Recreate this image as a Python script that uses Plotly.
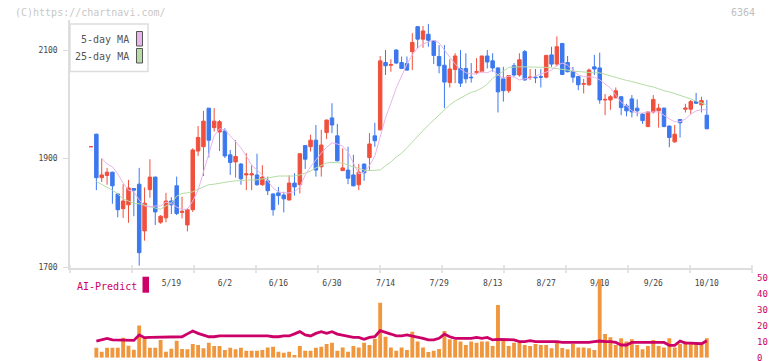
import plotly.graph_objects as go

# ---------------- data ----------------
tick_labels = ["5/19", "6/2", "6/16", "6/30", "7/14", "7/29", "8/13", "8/27", "9/10", "9/26", "10/10"]
tick_index = [15, 25, 35, 45, 55, 65, 75, 85, 95, 105, 115]

opens = [1922, 1945, 1865, 1869, 1875, 1835, 1808, 1815, 1845, 1853,
         1767, 1843, 1866, 1783, 1791, 1822, 1850, 1801, 1778, 1806,
         1914, 1922, 1993, 1957, 1949, 1951, 1907, 1894, 1890, 1870,
         1870, 1870, 1852, 1859, 1835, 1837, 1833, 1824, 1855, 1852,
         1924, 1922, 1934, 1885, 1948, 1975, 1942, 1878, 1879, 1870,
         1852, 1890, 1902, 1942, 1953, 2077, 2072, 2100, 2077, 2075,
         2097, 2143, 2120, 2129, 2117, 2088, 2072, 2040, 2064, 2066,
         2066, 2050, 2059, 2060, 2089, 2080, 2067, 2047, 2025, 2071,
         2054, 2097, 2049, 2050, 2051, 2050, 2091, 2074, 2112, 2077,
         2061, 2051, 2037, 2036, 2069, 2067, 2008, 2008, 2012, 2014,
         1997, 2010, 1993, 1982, 1959, 1986, 1988, 1993, 1960, 1931,
         1972, 1991, 1991, 2005, 1999, 1980]
highs = [1922, 1946, 1900, 1883, 1876, 1836, 1853, 1861, 1846, 1883,
         1847, 1899, 1867, 1796, 1837, 1829, 1867, 1830, 1809, 1919,
         1960, 1988, 1993, 1993, 1971, 1956, 1916, 1934, 1892, 1910,
         1888, 1909, 1888, 1867, 1836, 1848, 1839, 1869, 1873, 1910,
         1925, 1944, 1962, 1953, 1972, 2002, 1964, 1919, 1922, 1907,
         1890, 1891, 1947, 1966, 2089, 2100, 2083, 2101, 2088, 2088,
         2131, 2144, 2144, 2148, 2118, 2109, 2109, 2083, 2094, 2100,
         2094, 2076, 2085, 2089, 2100, 2094, 2068, 2069, 2054, 2076,
         2094, 2100, 2065, 2065, 2065, 2091, 2106, 2125, 2113, 2089,
         2069, 2052, 2047, 2066, 2091, 2095, 2019, 2017, 2031, 2015,
         2001, 2017, 2009, 1984, 1987, 2017, 2001, 1994, 1961, 1962,
         1973, 2001, 2008, 2021, 2014, 2008]
lows = [1922, 1842, 1857, 1852, 1817, 1792, 1791, 1782, 1794, 1703,
        1749, 1828, 1778, 1780, 1783, 1798, 1796, 1790, 1766, 1802,
        1905, 1868, 1902, 1950, 1914, 1901, 1870, 1865, 1852, 1842,
        1842, 1850, 1850, 1833, 1795, 1815, 1801, 1823, 1832, 1836,
        1881, 1913, 1867, 1867, 1936, 1947, 1895, 1877, 1853, 1849,
        1842, 1859, 1878, 1922, 1952, 2054, 2060, 2074, 2065, 2062,
        2063, 2103, 2104, 2106, 2074, 2057, 1993, 2031, 2039, 2032,
        2039, 2040, 2055, 2059, 2066, 2060, 1985, 2005, 2021, 2051,
        2051, 2043, 2045, 2039, 2031, 2048, 2069, 2070, 2054, 2059,
        2040, 2026, 2020, 2034, 2054, 2001, 1980, 1990, 2011, 1980,
        1978, 1976, 1978, 1964, 1958, 1983, 1957, 1958, 1921, 1929,
        1939, 1985, 1982, 2001, 1985, 1954]
closes = [1922, 1865, 1870, 1875, 1850, 1806, 1822, 1846, 1842, 1727,
          1818, 1866, 1802, 1794, 1822, 1815, 1799, 1803, 1806, 1916,
          1939, 1969, 1934, 1969, 1968, 1905, 1893, 1904, 1863, 1872,
          1872, 1852, 1866, 1841, 1806, 1832, 1826, 1855, 1848, 1909,
          1899, 1934, 1879, 1925, 1971, 1962, 1896, 1883, 1864, 1850,
          1875, 1874, 1927, 1933, 2080, 2071, 2073, 2076, 2066, 2063,
          2114, 2120, 2135, 2118, 2090, 2071, 2041, 2065, 2089, 2039,
          2047, 2049, 2060, 2089, 2078, 2067, 2023, 2025, 2053, 2054,
          2082, 2045, 2050, 2049, 2050, 2090, 2074, 2106, 2055, 2060,
          2050, 2036, 2038, 2063, 2065, 2008, 2009, 2014, 2025, 1994,
          1988, 1986, 1988, 1970, 1986, 2009, 1993, 1959, 1939, 1945,
          1966, 1993, 2005, 2002, 2007, 1955]

# 5-day moving average, indexes 2..115
ma5 = [1901, 1890, 1885, 1872, 1855, 1842, 1839, 1824, 1813, 1811,
       1813, 1813, 1820, 1818, 1811, 1806, 1807, 1822, 1842, 1875,
       1912, 1942, 1955, 1953, 1942, 1931, 1920, 1905, 1888, 1879,
       1870, 1859, 1846, 1839, 1837, 1837, 1839, 1848, 1870, 1885,
       1898, 1910, 1921, 1929, 1927, 1923, 1912, 1892, 1872, 1875,
       1887, 1905, 1942, 1975, 2002, 2030, 2052, 2074, 2091, 2104,
       2111, 2115, 2118, 2113, 2100, 2085, 2074, 2065, 2058, 2056,
       2056, 2060, 2058, 2063, 2054, 2048, 2052, 2050, 2045, 2047,
       2048, 2052, 2056, 2060, 2063, 2071, 2076, 2072, 2063, 2054,
       2051, 2050, 2050, 2045, 2037, 2030, 2017, 2004, 1997, 1988,
       1984, 1984, 1986, 1986, 1986, 1980, 1973, 1968, 1968, 1973,
       1982, 1988, 1990, 1990]
# 25-day moving average, indexes 1..115
ma25 = [1858, 1853, 1848, 1842, 1835, 1826, 1822, 1818, 1817, 1815,
        1812, 1809, 1807, 1813, 1818, 1831, 1836, 1837, 1839, 1844,
        1848, 1852, 1853, 1855, 1857, 1858, 1859, 1860, 1861, 1861,
        1861, 1863, 1864, 1866, 1868, 1868, 1868, 1868, 1870, 1874,
        1877, 1883, 1888, 1892, 1893, 1893, 1892, 1888, 1885, 1881,
        1879, 1878, 1878, 1879, 1887, 1894, 1903, 1910, 1920, 1931,
        1940, 1951, 1962, 1971, 1980, 1990, 1999, 2006, 2012, 2017,
        2022, 2025, 2030, 2037, 2048, 2054, 2061, 2068, 2069, 2069,
        2069, 2069, 2069, 2069, 2068, 2067, 2066, 2064, 2063, 2061,
        2060, 2060, 2059, 2058, 2058, 2055, 2052, 2049, 2047, 2044,
        2042, 2039, 2037, 2034, 2032, 2028, 2025, 2023, 2020, 2017,
        2014, 2010, 2006, 2002, 1999]

# lower panel, indexes 1..115
volume = [6.3, 3.8, 6.3, 6.3, 6.3, 12.6, 7.6, 5.0, 20.2, 12.6,
          6.3, 6.3, 11.1, 3.8, 5.7, 10.7, 5.5, 5.3, 8.6, 8.0,
          5.9, 9.4, 7.4, 7.4, 4.8, 6.3, 5.3, 6.3, 4.4, 4.4,
          4.4, 4.8, 6.5, 6.9, 3.8, 3.1, 3.8, 1.7, 7.4, 4.4,
          4.4, 6.3, 6.9, 8.6, 9.4, 4.4, 6.5, 3.8, 7.4, 6.5,
          9.4, 8.0, 12.0, 34.6, 13.2, 6.5, 4.4, 6.5, 4.8, 16.4,
          10.2, 6.5, 3.6, 4.4, 5.5, 16.8, 11.6, 11.1, 10.2, 8.0,
          10.2, 9.4, 10.2, 10.2, 7.4, 33.2, 10.7, 7.4, 9.4, 9.4,
          8.0, 7.4, 8.6, 8.0, 8.0, 5.9, 9.4, 6.1, 5.3, 8.6,
          6.5, 6.5, 5.9, 4.8, 49.4, 14.9, 12.8, 8.0, 12.2, 10.2,
          11.6, 8.0, 5.3, 7.4, 11.1, 7.4, 6.5, 12.2, 6.5, 8.8,
          10.2, 8.8, 8.8, 8.6, 12.2]
ai_predict = [10.5, 11.2, 12.2, 11.2, 11.2, 11.2, 11.2, 10.9, 14.3, 12.6,
              12.8, 12.8, 12.8, 12.8, 13.2, 13.2, 13.2, 15.0, 16.8, 15.3,
              14.3, 13.2, 13.2, 13.7, 13.7, 13.7, 13.7, 13.7, 13.7, 13.7,
              13.7, 13.7, 13.7, 13.2, 13.2, 13.7, 13.7, 15.0, 16.4, 14.3,
              13.7, 15.3, 16.4, 15.3, 16.4, 14.9, 14.3, 13.7, 12.8, 12.8,
              11.6, 12.8, 13.2, 17.0, 15.7, 14.9, 13.7, 13.7, 14.3, 13.7,
              12.8, 12.2, 11.2, 11.2, 12.2, 14.9, 13.2, 12.2, 12.2, 12.2,
              12.2, 12.8, 12.2, 12.8, 11.2, 11.6, 11.6, 11.6, 11.2, 10.1,
              10.1, 10.7, 10.1, 10.1, 10.1, 10.1, 10.1, 9.6, 9.6, 9.6,
              9.6, 9.6, 9.6, 10.1, 10.5, 10.1, 10.1, 9.6, 8.0, 8.0,
              9.6, 9.6, 9.6, 9.6, 9.6, 9.6, 9.6, 7.8, 7.8, 10.5,
              9.2, 9.2, 9.2, 8.8, 10.7]

# ---------------- styling ----------------
W, H = 772, 361
PL, PR = 70, 752          # plot area, pixels
MAIN_TOP, MAIN_BOT = 20, 268.3
LOW_TOP, LOW_BOT = 278.3, 357.7
X0_PX, STEP_PX = 91.0, 5.355   # centre of first candle, spacing

RED, BLUE = "#f0503c", "#3c78ee"
PINK, GREEN = "#e8b4ec", "#b4dca4"
MAGENTA, ORANGE = "#cc0066", "#f0963c"
AXIS = "#dddddd"
MONO = "DejaVu Sans Mono"


def py(p):   # pixel-from-top -> paper fraction
    return (H - p) / H


def px(p):   # pixel-from-left -> paper fraction
    return (p - PL) / (PR - PL)


n = len(closes)
idx = list(range(n))
xr = [(PL - X0_PX) / STEP_PX, (PR - X0_PX) / STEP_PX]

fig = go.Figure()
fig.add_trace(go.Candlestick(
    x=idx, open=opens, high=highs, low=lows, close=closes,
    increasing=dict(line=dict(color=RED, width=1), fillcolor=RED),
    decreasing=dict(line=dict(color=BLUE, width=1), fillcolor=BLUE),
    whiskerwidth=0, xaxis="x", yaxis="y", showlegend=False, hoverinfo="skip"))
fig.add_trace(go.Scatter(x=idx[1:], y=ma25, mode="lines", line=dict(color=GREEN, width=1),
                         xaxis="x", yaxis="y", showlegend=False, hoverinfo="skip"))
fig.add_trace(go.Scatter(x=idx[2:], y=ma5, mode="lines", line=dict(color=PINK, width=1),
                         xaxis="x", yaxis="y", showlegend=False, hoverinfo="skip"))
fig.add_trace(go.Bar(x=idx[1:], y=volume, marker=dict(color=ORANGE, line=dict(width=0)),
                     xaxis="x2", yaxis="y2", showlegend=False, hoverinfo="skip"))
fig.add_trace(go.Scatter(x=idx[1:], y=ai_predict, mode="lines", line=dict(color=MAGENTA, width=2.8),
                         xaxis="x2", yaxis="y2", showlegend=False, hoverinfo="skip"))

y_main_lo = 1700 - (MAIN_BOT - 267.3) / 0.5433
y_main_hi = 2100 + (50 - MAIN_TOP) / 0.5433

shapes = []
# x-axis tick marks every 62 px
for k in range(12):
    xp = PL + 62 * k
    shapes.append(dict(type="line", xref="paper", yref="paper", x0=px(xp), x1=px(xp),
                       y0=py(273), y1=py(265), line=dict(color=AXIS, width=1.5)))
# legend box
shapes.append(dict(type="rect", xref="paper", yref="paper", x0=px(70), x1=px(148),
                   y0=py(71.5), y1=py(24), fillcolor="white", line=dict(color=AXIS, width=1.5), layer="above"))
shapes.append(dict(type="rect", xref="paper", yref="paper", x0=px(136.5), x1=px(142.5),
                   y0=py(46), y1=py(31.5), fillcolor=PINK, line=dict(color="#555555", width=1), layer="above"))
shapes.append(dict(type="rect", xref="paper", yref="paper", x0=px(136.5), x1=px(142.5),
                   y0=py(63), y1=py(48.5), fillcolor="#b8dca8", line=dict(color="#555555", width=1), layer="above"))
# AI-Predict swatch
shapes.append(dict(type="rect", xref="paper", yref="paper", x0=px(142.5), x1=px(149),
                   y0=py(292.7), y1=py(276.7), fillcolor=MAGENTA, line=dict(width=0)))

annotations = [
    dict(text="(C)https://chartnavi.com/", xref="paper", yref="paper", x=px(13), y=py(12.5),
         xanchor="left", yanchor="middle", showarrow=False, font=dict(family=MONO, size=10, color="#c8c8c8")),
    dict(text="6364", xref="paper", yref="paper", x=px(757), y=py(12.5),
         xanchor="right", yanchor="middle", showarrow=False, font=dict(family=MONO, size=10, color="#c0c0c0")),
    dict(text="5-day MA", xref="paper", yref="paper", x=px(131), y=py(39.5),
         xanchor="right", yanchor="middle", showarrow=False, font=dict(family=MONO, size=10, color="#555555")),
    dict(text="25-day MA", xref="paper", yref="paper", x=px(131), y=py(56.5),
         xanchor="right", yanchor="middle", showarrow=False, font=dict(family=MONO, size=10, color="#555555")),
    dict(text="AI-Predict", xref="paper", yref="paper", x=px(75), y=py(286),
         xanchor="left", yanchor="middle", showarrow=False, font=dict(family=MONO, size=10, color=MAGENTA)),
]

fig.update_layout(
    width=W, height=H, margin=dict(l=PL, r=W - PR, t=0, b=0, pad=0, autoexpand=False),
    paper_bgcolor="white", plot_bgcolor="rgba(0,0,0,0)",
    showlegend=False, boxgap=0.07, bargap=0.28,
    font=dict(family=MONO),
    xaxis=dict(domain=[0, 1], anchor="y", range=xr, tickvals=tick_index, ticktext=tick_labels,
               showline=True, linecolor=AXIS, linewidth=1.5, ticks="", showgrid=False, zeroline=False,
               tickfont=dict(family=MONO, size=8, color="#444444"), ticklabelstandoff=6,
               rangeslider=dict(visible=False), fixedrange=True, automargin=False),
    yaxis=dict(domain=[py(MAIN_BOT), py(MAIN_TOP)], anchor="x", range=[y_main_lo, y_main_hi],
               tickvals=[1700, 1900, 2100], ticks="outside", ticklen=5, tickcolor=AXIS,
               showline=True, linecolor=AXIS, linewidth=1.5, showgrid=False, zeroline=False,
               tickfont=dict(family=MONO, size=8, color="#444444"), ticklabelstandoff=4, automargin=False),
    xaxis2=dict(domain=[0, 1], anchor="y2", range=xr, visible=False, matches="x", automargin=False),
    yaxis2=dict(domain=[py(LOW_BOT), py(LOW_TOP)], anchor="x2", range=[0, 50], side="right",
                tickvals=[0, 10, 20, 30, 40, 50], ticks="", showline=False, showgrid=False, zeroline=False,
                tickfont=dict(family=MONO, size=9, color=MAGENTA), ticklabelstandoff=4,
                ticklabeloverflow="allow", automargin=False),
    shapes=shapes, annotations=annotations,
)

fig.write_html("out.html", config={"displayModeBar": False},
               post_script="document.body.style.margin='0';document.body.style.padding='0';")
